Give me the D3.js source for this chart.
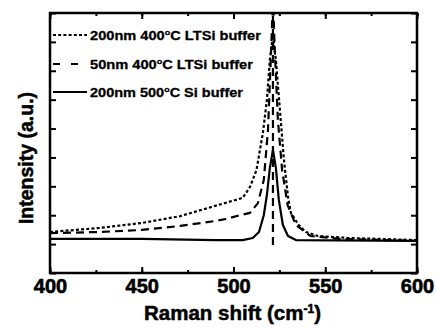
<!DOCTYPE html>
<html><head><meta charset="utf-8">
<script src="https://cdn.jsdelivr.net/npm/d3@7"></script>
<style>body{margin:0;background:#fff}svg{display:block}</style>
</head><body>
<script>
// ---- data ----
const seriesNames = ["200nm 400°C LTSi buffer", "50nm 400°C LTSi buffer", "200nm 500°C Si buffer"];
const xTicks = [400, 450, 500, 550, 600];
const peakMarker = [[521.5, 0.97], [521.5, 9.0]];
const dottedX = [400,427,450,471,491.5,505,509,512.5,516,518.2,519.8,521.5,523.1,525.3,527.5,529.7,531.3,535.5,539.5,546,563.5,600];
const dottedY = [1.42,1.56,1.73,1.97,2.35,2.60,2.98,3.56,4.84,5.99,7.37,8.24,7.37,5.64,3.91,2.63,2.08,1.66,1.42,1.28,1.21,1.14];
const dashedX = [400,427,450,471,490,496,503.5,509,513.3,516.5,518.8,520.5,521.5,522.5,524.2,526.5,529.5,534,542,558,600];
const dashedY = [1.38,1.42,1.49,1.63,1.80,1.87,2.0,2.08,2.42,3.22,4.95,7.7,9.5,7.7,5.29,3.56,2.35,1.66,1.28,1.18,1.11];
const solidX = [400,450,490,505,510.5,513.9,516.5,518.2,519.8,521.5,523.1,524.7,526.9,529.7,534,600];
const solidY = [1.18,1.18,1.14,1.14,1.21,1.42,2.0,2.70,3.63,4.26,3.63,2.53,1.66,1.28,1.14,1.11];

const W = 437, H = 328;
const m = {l: 50, r: 20, t: 13, b: 55};
const FONT = "Liberation Sans, Arial, sans-serif";
const svg = d3.select("body").append("svg").attr("width", W).attr("height", H);
const x = d3.scaleLinear().domain([400, 600]).range([m.l, W - m.r]);
const y = d3.scaleLinear().domain([0, 9]).range([H - m.b, m.t]);

svg.append("clipPath").attr("id", "c").append("rect")
  .attr("x", m.l).attr("y", m.t).attr("width", W - m.l - m.r).attr("height", H - m.t - m.b);

const line = d3.line().x(d => x(d[0])).y(d => y(d[1]));
const g = svg.append("g").attr("clip-path", "url(#c)");
const mk = (xs, ys) => xs.map((v, i) => [v, ys[i]]);
const styles = [
  {dash: "3,2.2", w: 2.2, leg: "3,2.2"},
  {dash: "8,5", w: 2.2, leg: "7,11"},
  {dash: null, w: 2.2, leg: null}
];
const data = [mk(dottedX, dottedY), mk(dashedX, dashedY), mk(solidX, solidY)];
data.forEach((d, i) => {
  g.append("path").datum(d).attr("d", line).attr("fill", "none").attr("stroke", "#000")
    .attr("stroke-width", styles[i].w).attr("stroke-dasharray", styles[i].dash)
    .attr("stroke-linejoin", "round");
});
g.append("path").datum(peakMarker).attr("d", line).attr("fill", "none").attr("stroke", "#000")
  .attr("stroke-width", 2.2).attr("stroke-dasharray", "8,5");

// axes (inward ticks)
const xMinor = d3.range(400, 601, 25);
const yt = d3.range(0, 10, 1);
const axB = svg.append("g").attr("transform", `translate(0,${H - m.b})`)
  .call(d3.axisBottom(x).tickValues(xMinor).tickSize(-3).tickFormat(""));
const axB2 = svg.append("g").attr("transform", `translate(0,${H - m.b})`)
  .call(d3.axisBottom(x).tickValues(xTicks).tickSize(-6).tickPadding(6).tickFormat(d3.format("d")));
const axT = svg.append("g").attr("transform", `translate(0,${m.t})`)
  .call(d3.axisTop(x).tickValues(xMinor).tickSize(-3).tickFormat(""));
const axT2 = svg.append("g").attr("transform", `translate(0,${m.t})`)
  .call(d3.axisTop(x).tickValues(xTicks).tickSize(-6).tickFormat(""));
const axL = svg.append("g").attr("transform", `translate(${m.l},0)`)
  .call(d3.axisLeft(y).tickValues(yt).tickSize(-6).tickFormat(""));
const axR = svg.append("g").attr("transform", `translate(${W - m.r},0)`)
  .call(d3.axisRight(y).tickValues(yt).tickSize(-6).tickFormat(""));
[axB, axB2, axT, axT2, axL, axR].forEach(a => {
  a.select(".domain").remove();
  a.selectAll("line").attr("stroke", "#000").attr("stroke-width", 2);
});
axB2.selectAll("text").attr("font-family", FONT)
  .attr("font-weight", "bold").attr("font-size", 20).attr("fill", "#000")
  .attr("stroke", "#000").attr("stroke-width", 0.6);

svg.append("rect").attr("x", m.l).attr("y", m.t).attr("width", W - m.l - m.r).attr("height", H - m.t - m.b)
  .attr("fill", "none").attr("stroke", "#000").attr("stroke-width", 2.5);

// titles
const xt = svg.append("text").attr("x", x(500) - 1).attr("y", 320).attr("text-anchor", "middle")
  .attr("font-family", FONT).attr("font-weight", "bold").attr("font-size", 20.5)
  .attr("stroke", "#000").attr("stroke-width", 0.5);
xt.append("tspan").text("Raman shift (cm");
xt.append("tspan").attr("baseline-shift", "super").attr("font-size", 12).text("-1");
xt.append("tspan").text(")");
svg.append("text").attr("transform", `translate(33,158) rotate(-90)`).attr("text-anchor", "middle")
  .attr("font-family", FONT).attr("font-weight", "bold").attr("font-size", 19.5)
  .attr("stroke", "#000").attr("stroke-width", 0.5)
  .text("Intensity (a.u.)");

// legend
const legY = [35, 64, 92];
const legW = [171, 163, 153];
const lg = svg.append("g");
seriesNames.forEach((s, i) => {
  lg.append("line").attr("x1", 53).attr("x2", i === 1 ? 79 : 87).attr("y1", legY[i]).attr("y2", legY[i])
    .attr("stroke", "#000").attr("stroke-width", 2).attr("stroke-dasharray", styles[i].leg);
  const parts = s.split("°");
  const tg = lg.append("g").attr("transform", `translate(90,${legY[i] + 4.5})`);
  const t = tg.append("text").attr("x", 0).attr("y", 0)
    .attr("font-family", FONT).attr("font-weight", "bold").attr("font-size", 13)
    .attr("stroke", "#000").attr("stroke-width", 0.3);
  t.append("tspan").text(parts[0]);
  t.append("tspan").attr("baseline-shift", "super").attr("font-size", 8).text("o");
  t.append("tspan").text(parts[1]);
  const w = t.node().getBBox().width;
  tg.attr("transform", `translate(90,${legY[i] + 4.5}) scale(${legW[i] / w},1)`);
});
</script>
</body></html>
